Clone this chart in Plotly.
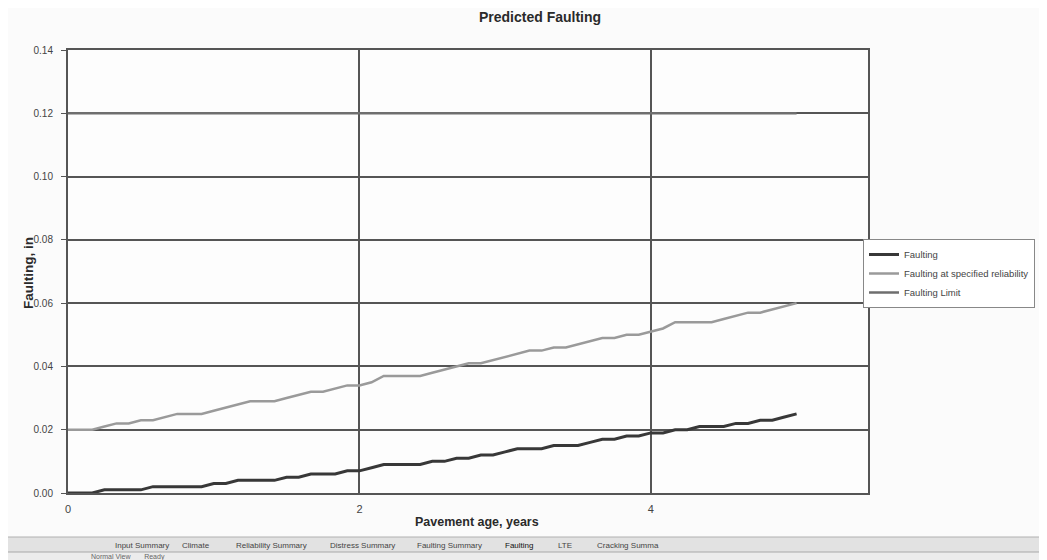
import plotly.graph_objects as go

# Pavement age in months (monthly output), plotted in years
age_months = list(range(61))

faulting = [
    0.000, 0.000, 0.000, 0.001, 0.001, 0.001, 0.001, 0.002, 0.002, 0.002,
    0.002, 0.002, 0.003, 0.003, 0.004, 0.004, 0.004, 0.004, 0.005, 0.005,
    0.006, 0.006, 0.006, 0.007, 0.007, 0.008, 0.009, 0.009, 0.009, 0.009,
    0.010, 0.010, 0.011, 0.011, 0.012, 0.012, 0.013, 0.014, 0.014, 0.014,
    0.015, 0.015, 0.015, 0.016, 0.017, 0.017, 0.018, 0.018, 0.019, 0.019,
    0.020, 0.020, 0.021, 0.021, 0.021, 0.022, 0.022, 0.023, 0.023, 0.024,
    0.025,
]

faulting_reliability = [
    0.020, 0.020, 0.020, 0.021, 0.022, 0.022, 0.023, 0.023, 0.024, 0.025,
    0.025, 0.025, 0.026, 0.027, 0.028, 0.029, 0.029, 0.029, 0.030, 0.031,
    0.032, 0.032, 0.033, 0.034, 0.034, 0.035, 0.037, 0.037, 0.037, 0.037,
    0.038, 0.039, 0.040, 0.041, 0.041, 0.042, 0.043, 0.044, 0.045, 0.045,
    0.046, 0.046, 0.047, 0.048, 0.049, 0.049, 0.050, 0.050, 0.051, 0.052,
    0.054, 0.054, 0.054, 0.054, 0.055, 0.056, 0.057, 0.057, 0.058, 0.059,
    0.060,
]

faulting_limit = [0.12] * 61

# Worksheet tabs shown under the chart
sheet_tabs = ["Input Summary", "Climate", "Reliability Summary", "Distress Summary",
              "Faulting Summary", "Faulting", "LTE", "Cracking Summa"]
tab_centers = [142, 196, 272, 363, 450, 520, 566, 629]

age_years = [m / 12 for m in age_months]

font_family = "Liberation Sans, Arial, sans-serif"
grid_col = "#555555"

# page body adds an 8px margin, so the figure is a bit smaller than the window
W, H = 1039, 552
L, R, T, B = 60, 177, 42, 67
PW, PH = W - L - R, H - T - B


def px(x_ref):
    # reference pixel x -> paper coordinate
    return (x_ref - 68) / PW


def py(y_ref):
    # reference pixel y -> paper coordinate
    return (493 - y_ref) / PH


fig = go.Figure()

fig.add_trace(go.Scatter(
    x=age_years, y=faulting_limit, mode='lines', name='Faulting Limit',
    line=dict(color='#6e6e6e', width=2.5),
))
fig.add_trace(go.Scatter(
    x=age_years, y=faulting_reliability, mode='lines',
    name='Faulting at specified reliability',
    line=dict(color='#9a9a9a', width=2.5),
))
fig.add_trace(go.Scatter(
    x=age_years, y=faulting, mode='lines', name='Faulting',
    line=dict(color='#383838', width=3),
))

# Excel-style sheet tab bar along the bottom
fig.add_shape(type='rect', xref='paper', yref='paper',
              x0=px(0), x1=px(1047), y0=py(562), y1=py(537),
              fillcolor='#e2e2e2', line=dict(color='#b0b0b0', width=1))
fig.add_shape(type='rect', xref='paper', yref='paper',
              x0=px(0), x1=px(1047), y0=py(562), y1=py(552),
              fillcolor='#ececec', line=dict(color='#a8a8a8', width=1))

for name, cx in zip(sheet_tabs, tab_centers):
    fig.add_annotation(
        x=px(cx), y=py(545), xref='paper', yref='paper',
        xanchor='center', yanchor='middle',
        text=name, showarrow=False,
        font=dict(family=font_family, size=8,
                  color='#111111' if name == 'Faulting' else '#444444'),
    )
fig.add_annotation(x=px(128), y=py(557), xref='paper', yref='paper',
                   xanchor='center', yanchor='middle',
                   text='Normal View       Ready', showarrow=False,
                   font=dict(family=font_family, size=7, color='#666666'))

# Axis titles
fig.add_annotation(
    x=px(478), y=py(522), xref='paper', yref='paper',
    xanchor='center', yanchor='middle',
    text='<b>Pavement age, years</b>', showarrow=False,
    font=dict(family=font_family, size=12.5, color='#2a2a2a'),
)
fig.add_annotation(
    x=px(28), y=py(273), xref='paper', yref='paper',
    xanchor='center', yanchor='middle',
    text='<b>Faulting, in</b>', showarrow=False, textangle=-90,
    font=dict(family=font_family, size=13.5, color='#2a2a2a'),
)

fig.update_layout(
    title=dict(text='<b>Predicted Faulting</b>', x=(540 - 8) / W, xanchor='center',
               y=1 - (17 - 8) / H, yanchor='middle',
               font=dict(family=font_family, size=14, color='#2a2a2a')),
    width=W,
    height=H,
    margin=dict(l=L, r=R, t=T, b=B),
    paper_bgcolor='#fbfbfb',
    plot_bgcolor='#fdfdfd',
    font=dict(family=font_family, size=10, color='#444444'),
    xaxis=dict(
        range=[0, 5.49], tickvals=[0, 2, 4], ticktext=['0', '2', '4'],
        showgrid=True, gridcolor=grid_col, gridwidth=2,
        showline=True, linecolor=grid_col, linewidth=2, mirror=True,
        zeroline=False, ticks='', ticklabelstandoff=5,
        tickfont=dict(family=font_family, size=11, color='#444444'),
    ),
    yaxis=dict(
        range=[0, 0.14], dtick=0.02, tickformat='.2f',
        showgrid=True, gridcolor=grid_col, gridwidth=2,
        showline=True, linecolor=grid_col, linewidth=2, mirror=True,
        zeroline=False, ticks='outside', ticklen=5, tickcolor=grid_col,
        ticklabelstandoff=6,
        tickfont=dict(family=font_family, size=10, color='#444444'),
    ),
    legend=dict(
        x=px(865), y=py(239), xanchor='left', yanchor='top',
        traceorder='reversed', bgcolor='#ffffff', bordercolor='#888888', borderwidth=1,
        font=dict(family=font_family, size=9.5, color='#444444'),
        itemwidth=30,
    ),
)

fig.write_html("out.html")
